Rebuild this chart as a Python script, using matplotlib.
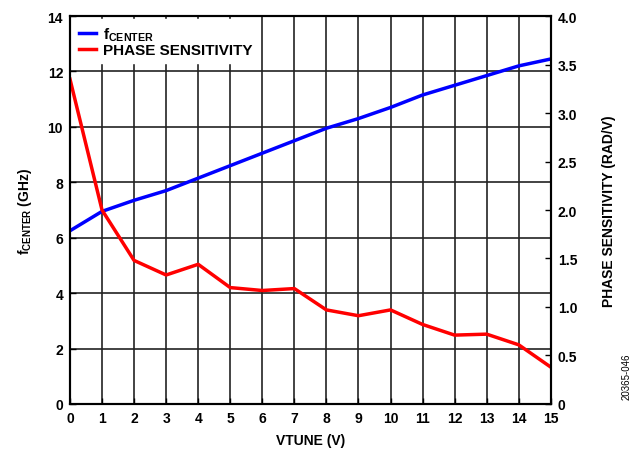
import matplotlib
matplotlib.use("Agg")
import matplotlib.pyplot as plt

# Datos
vtune = [0, 1, 2, 3, 4, 5, 6, 7, 8, 9, 10, 11, 12, 13, 14, 15]
f_center = [6.25, 6.95, 7.35, 7.7, 8.15, 8.6, 9.05, 9.5, 9.95, 10.3, 10.7,
            11.15, 11.5, 11.85, 12.2, 12.45]
phase_sens = [3.35, 2.0, 1.48, 1.33, 1.44, 1.2, 1.17, 1.19, 0.97, 0.91, 0.97,
              0.82, 0.71, 0.72, 0.61, 0.38]

plt.rcParams['font.family'] = ['Liberation Sans', 'DejaVu Sans']
plt.rcParams['font.weight'] = 'bold'
plt.rcParams['mathtext.fontset'] = 'custom'
plt.rcParams['mathtext.rm'] = 'Liberation Sans:bold'
plt.rcParams['mathtext.bf'] = 'Liberation Sans:bold'
plt.rcParams['mathtext.it'] = 'Liberation Sans:bold'

fig = plt.figure(figsize=(6.36, 4.6), dpi=100)
ax = fig.add_axes([0.110, 0.1196, 0.756, 0.8434])
ax2 = ax.twinx()

l1, = ax.plot(vtune, f_center, color='#0000ff', lw=2.5)
l2, = ax2.plot(vtune, phase_sens, color='#ff0000', lw=2.5)

ax.set_xlim(0, 15)
ax.set_ylim(0, 14)
ax2.set_ylim(0, 4)
ax.set_xticks(range(0, 16))
ax.set_yticks(range(0, 15, 2))
ax2.set_yticks([0, 0.5, 1, 1.5, 2, 2.5, 3, 3.5, 4])
ax2.set_yticklabels(['0', '0.5', '1.0', '1.5', '2.0', '2.5', '3.0', '3.5', '4.0'])

ax.grid(True, color='#222222', lw=1.2)
for a in (ax, ax2):
    a.tick_params(direction='in', labelsize=10, length=4, width=1, pad=5)
    for s in a.spines.values():
        s.set_linewidth(1.5)

ax.set_xlabel('VTUNE (V)', fontsize=10, fontweight='bold', labelpad=6)
ax.set_ylabel(r'$\mathbf{f_{CENTER}}$ (GHz)', fontsize=10, fontweight='bold', labelpad=10)
ax2.set_ylabel('PHASE SENSITIVITY (RAD/V)', fontsize=10, fontweight='bold', labelpad=18)

leg = ax.legend([l1, l2], [r'$\mathbf{f_{CENTER}}$', 'PHASE SENSITIVITY'],
                loc='upper left', frameon=True, fontsize=11,
                handlelength=1.1, handletextpad=0.45, borderaxespad=0.2,
                labelspacing=0.05, borderpad=0.4, fancybox=False)
leg.get_frame().set_edgecolor('white')
leg.get_frame().set_facecolor('white')
leg.get_frame().set_alpha(1)
leg.remove()
ax2.add_artist(leg)

fig.text(0.985, 0.13, '20365-046', rotation=90, fontsize=7, fontweight='normal',
         ha='center', va='bottom')

fig.savefig('out.png', dpi=100)
